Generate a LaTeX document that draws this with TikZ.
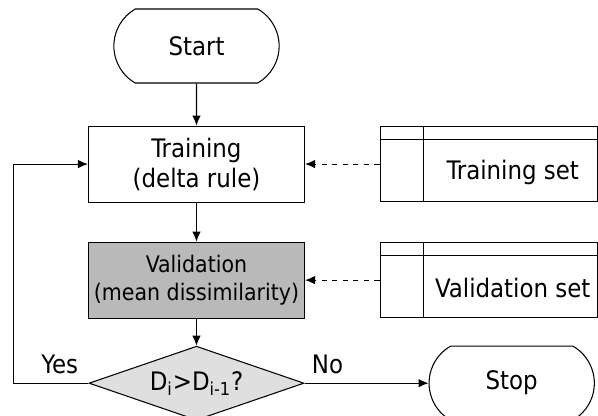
\documentclass[tikz,border=0pt]{standalone}
\usepackage{fontspec}
\setmainfont{DejaVu Sans Condensed}
\usetikzlibrary{arrows.meta, positioning, shapes.misc, shapes.geometric}
\tikzstyle{flowchart}=[>={Latex[length=2mm,width=1.7mm]}, line width=0.6pt, font=\fontsize{14.5}{17}\selectfont]
\tikzstyle{terminal}=[draw, rounded rectangle, rounded rectangle arc length=120, minimum width=35.4mm, minimum height=14.8mm]
\tikzstyle{process}=[draw, rectangle, align=center, inner xsep=0.3mm, minimum width=43.2mm, minimum height=15.2mm]
\tikzstyle{decision}=[draw, diamond, aspect=2.9, inner sep=0pt, minimum width=43mm, minimum height=14.8mm]
% data store: box with a narrow left column and a thin top strip
\tikzstyle{datastore}=[draw, minimum width=43.5mm, minimum height=15mm,
  path picture={
    \draw ([xshift=8.6mm]path picture bounding box.north west) -- ([xshift=8.6mm]path picture bounding box.south west);
    \draw ([yshift=-2.6mm]path picture bounding box.north west) -- ([yshift=-2.6mm]path picture bounding box.north east);
  }]

\begin{document}
\begin{tikzpicture}[flowchart]
  \useasboundingbox (0,0) rectangle (119.6mm,-83mm);
  \node[terminal] (start) at (39.3mm,-9.2mm) {Start};
  \node[process] (train) [below=8.4mm of start] {Training\\(delta rule)};
  \node[process, fill=gray!55, font=\fontsize{13}{16}\selectfont] (valid) [below=7.8mm of train] {Validation\\(mean dissimilarity)};
  \node[decision, fill=gray!25] (dec) [below=5.4mm of valid] {D\textsubscript{i}>D\textsubscript{i-1}?};
  \node[terminal] (stop) [right=24.8mm of dec] {Stop};
  \node[datastore] (trainset) [right=14.9mm of train] {};
  \node[datastore] (validset) [right=14.9mm of valid] {};
  \node (trainsettext) at ([xshift=4.8mm,yshift=-1.6mm]trainset.center) {Training set};
  \node (validsettext) at ([xshift=4.8mm,yshift=-1.6mm]validset.center) {Validation set};
  \node (yes) [above left=0.6mm and 0.8mm of dec.west] {Yes};
  \node (no) [above right=0.6mm and 0.2mm of dec.east] {No};
  \path[->] (start) edge (train);
  \path[->] (train) edge (valid);
  \path[->] (valid) edge (dec);
  \path[->] (dec) edge (stop);
  \path[->] (trainset) edge[dashed] (train);
  \path[->] (validset) edge[dashed] (valid);
  \draw[->] (dec.west) -- ++(-15mm,0) |- (train.west);
\end{tikzpicture}
\end{document}
